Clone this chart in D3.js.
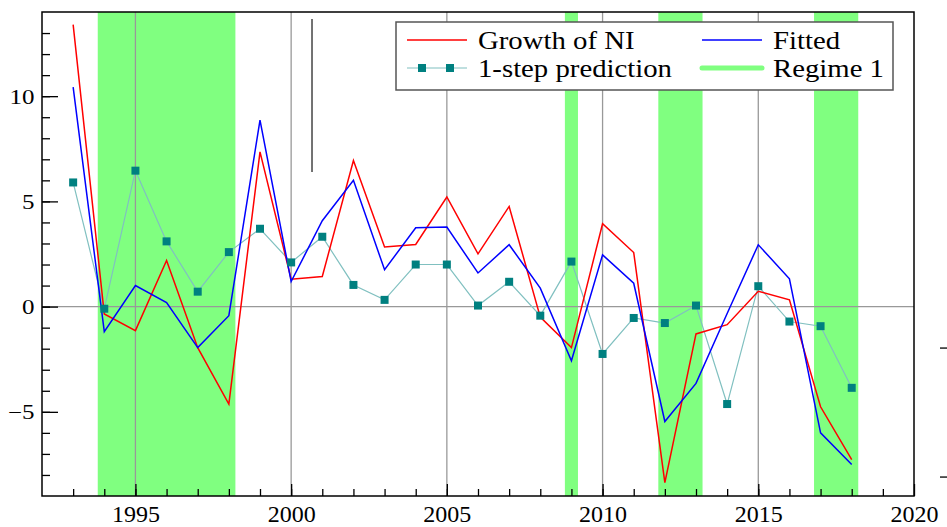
<!DOCTYPE html>
<html>
<head>
<meta charset="utf-8">
<script src="https://cdn.jsdelivr.net/npm/d3@7"></script>
<style>
  body { margin: 0; background: #fff; }
  svg { display: block; font-family: "Liberation Serif", "DejaVu Serif", serif; }
</style>
</head>
<body>
<svg id="chart" width="947" height="527"></svg>
<script>
// observation years
var years = [1993, 1994, 1995, 1996, 1997, 1998, 1999, 2000, 2001, 2002, 2003, 2004, 2005,
             2006, 2007, 2008, 2009, 2010, 2011, 2012, 2013, 2014, 2015, 2016, 2017, 2018];

var growthNI = [13.4, -0.35, -1.14, 2.19, -1.95, -4.63, 7.35, 1.3, 1.43, 6.94, 2.83, 2.95, 5.21,
                2.51, 4.76, -0.5, -1.95, 3.94, 2.57, -8.36, -1.3, -0.86, 0.73, 0.32, -4.76, -7.27];

var fitted = [10.43, -1.19, 1.0, 0.19, -1.95, -0.43, 8.86, 1.19, 4.08, 6.0, 1.75, 3.75, 3.78,
              1.6, 2.94, 0.88, -2.57, 2.46, 1.11, -5.46, -3.65, -0.33, 2.94, 1.32, -6.0, -7.5];

var prediction = [5.9, -0.1, 6.46, 3.1, 0.71, 2.59, 3.7, 2.1, 3.32, 1.03, 0.32, 2.0, 2.0,
                  0.05, 1.18, -0.43, 2.14, -2.25, -0.54, -0.78, 0.05, -4.63, 0.97, -0.71, -0.93, -3.86];

// years classified as regime 1 (first, last)
var regime1 = [[1994, 1998], [2009, 2009], [2012, 2013], [2017, 2018]];

var xTicksMajor = [1995, 2000, 2005, 2010, 2015, 2020];
var yTicksMajor = [-5, 0, 5, 10];

// odd vertical stroke near 2000 and stray ticks from a neighbouring panel
var strayLine = [[2000.67, 6.4], [2000.67, 13.67]];
var strayTicks = [-1.97, -8.1];

var svg = d3.select("#chart");
var margin = {top: 12, right: 33, bottom: 31, left: 42};
var W = 947, H = 527;

var x = d3.scaleLinear().domain([1992, 2020]).range([margin.left, W - margin.right]);
var y = d3.scaleLinear().domain([-9, 14]).range([H - margin.bottom, margin.top]);

var pad = 0.21;

// regime bands
svg.append("g").selectAll("rect").data(regime1).enter().append("rect")
  .attr("x", function(d) { return x(d[0] - pad); })
  .attr("width", function(d) { return x(d[1] + pad) - x(d[0] - pad); })
  .attr("y", y(14))
  .attr("height", y(-9) - y(14))
  .attr("fill", "#80ff80");

// grid lines
var grid = svg.append("g").attr("stroke", "#999").attr("stroke-width", 1.3);
grid.selectAll("line.v").data(xTicksMajor.slice(0, 5)).enter().append("line")
  .attr("x1", function(d) { return x(d); }).attr("x2", function(d) { return x(d); })
  .attr("y1", y(14)).attr("y2", y(-9));
grid.append("line").attr("x1", x(1992)).attr("x2", x(2020)).attr("y1", y(0)).attr("y2", y(0));

// series
var line = d3.line()
  .x(function(d, i) { return x(years[i]); })
  .y(function(d) { return y(d); });

svg.append("path").datum(prediction).attr("d", line)
  .attr("fill", "none").attr("stroke", "#80c0c0").attr("stroke-width", 1.2);
svg.append("path").datum(growthNI).attr("d", line)
  .attr("fill", "none").attr("stroke", "#ff0000").attr("stroke-width", 1.5);
svg.append("path").datum(fitted).attr("d", line)
  .attr("fill", "none").attr("stroke", "#0000ff").attr("stroke-width", 1.5);
svg.append("g").selectAll("rect").data(prediction).enter().append("rect")
  .attr("x", function(d, i) { return x(years[i]) - 4; })
  .attr("y", function(d) { return y(d) - 4; })
  .attr("width", 8).attr("height", 8)
  .attr("fill", "#008080");

// stray vertical stroke
svg.append("path").datum(strayLine)
  .attr("d", d3.line().x(function(d) { return x(d[0]); }).y(function(d) { return y(d[1]); }))
  .attr("stroke", "#444").attr("stroke-width", 1.5);

// axes (ticks inside)
var axisX = d3.axisBottom(x).tickValues(d3.range(1993, 2020)).tickSizeInner(-7).tickSizeOuter(0).tickFormat("");
var axisXMaj = d3.axisBottom(x).tickValues(xTicksMajor).tickSizeInner(-12).tickSizeOuter(0)
  .tickFormat(d3.format("d"));
var axisY = d3.axisLeft(y).tickValues(d3.range(-8, 14)).tickSizeInner(-8).tickSizeOuter(0).tickFormat("");
var axisYMaj = d3.axisLeft(y).tickValues(yTicksMajor).tickSizeInner(-16).tickSizeOuter(0).tickPadding(6)
  .tickFormat(d3.format("d"));

var gx = svg.append("g").attr("transform", "translate(0," + y(-9) + ")");
gx.call(axisX);
var gxm = svg.append("g").attr("transform", "translate(0," + y(-9) + ")");
gxm.call(axisXMaj);
gxm.selectAll("text").attr("font-size", 24).attr("font-family", "Liberation Serif").attr("fill", "#000")
  .attr("y", 26).attr("dy", 0)
  .attr("transform", function(d) { return "translate(" + 0 + ",0)"; });

var gy = svg.append("g").attr("transform", "translate(" + x(1992) + ",0)");
gy.call(axisY);
var gym = svg.append("g").attr("transform", "translate(" + x(1992) + ",0)");
gym.call(axisYMaj);
gym.selectAll("text").attr("font-size", 20).attr("font-family", "Liberation Serif").attr("fill", "#000")
  .attr("x", -6).attr("dy", "0.35em")
  .attr("transform", "scale(1.25,1)");
[gx, gxm, gy, gym].forEach(function(g) {
  g.select(".domain").remove();
  g.selectAll("line").attr("stroke", "#000").attr("stroke-width", 1.3);
});

// frame
svg.append("rect")
  .attr("x", x(1992)).attr("y", y(14))
  .attr("width", x(2020) - x(1992)).attr("height", y(-9) - y(14))
  .attr("fill", "none").attr("stroke", "#000").attr("stroke-width", 1.5);

// stray ticks at right edge
svg.append("g").selectAll("line").data(strayTicks).enter().append("line")
  .attr("x1", 940).attr("x2", 947)
  .attr("y1", function(d) { return y(d); }).attr("y2", function(d) { return y(d); })
  .attr("stroke", "#000").attr("stroke-width", 1.3);

// legend
var lg = svg.append("g");
lg.append("rect").attr("x", 396).attr("y", 22).attr("width", 497).attr("height", 68)
  .attr("fill", "#fff").attr("stroke", "#555").attr("stroke-width", 1.5);

var legendItems = [
  {label: "Growth of NI", col: 0, row: 0, color: "#ff0000", w: 1.5},
  {label: "Fitted", col: 1, row: 0, color: "#0000ff", w: 1.5},
  {label: "1-step prediction", col: 0, row: 1, color: "#80c0c0", w: 1.2, marker: true},
  {label: "Regime 1", col: 1, row: 1, color: "#80ff80", w: 5}
];
var colX = [407, 702], rowY = [40, 68];
legendItems.forEach(function(it) {
  var lx = colX[it.col], ly = rowY[it.row];
  lg.append("line").attr("x1", lx).attr("x2", lx + 60).attr("y1", ly).attr("y2", ly)
    .attr("stroke", it.color).attr("stroke-width", it.w).attr("stroke-linecap", it.w > 3 ? "round" : "butt");
  if (it.marker) {
    [lx + 15, lx + 43].forEach(function(mx) {
      lg.append("rect").attr("x", mx - 4).attr("y", ly - 4).attr("width", 8).attr("height", 8).attr("fill", "#008080");
    });
  }
  lg.append("text").attr("x", lx + 71).attr("y", ly + 9)
    .attr("font-size", 25).attr("fill", "#000")
    .attr("transform", "translate(" + (lx + 71) + ",0) scale(1.15,1) translate(" + (-(lx + 71)) + ",0)")
    .text(it.label);
});
</script>
</body>
</html>
